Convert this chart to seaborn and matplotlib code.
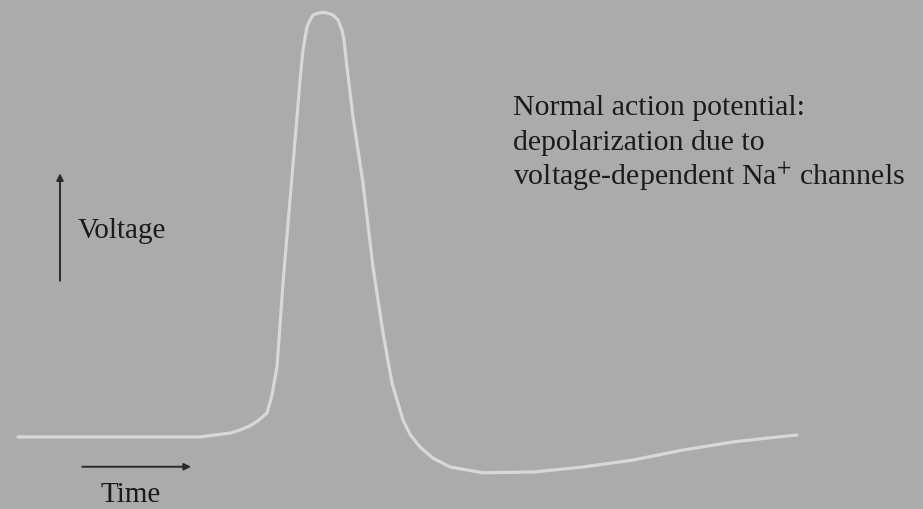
import matplotlib
matplotlib.use("Agg")
import matplotlib.pyplot as plt
import seaborn as sns
import pandas as pd

# action potential trace (time in ms, voltage in mV)
time_ms = [0.0, 1.64, 3.64, 4.24, 4.44, 4.64, 4.80, 4.98, 5.08, 5.18, 5.30, 5.44,
           5.58, 5.64, 5.70, 5.74, 5.78, 5.84, 5.90, 6.00, 6.10, 6.20, 6.30, 6.40,
           6.48, 6.52, 6.58, 6.70, 6.90, 7.10, 7.30, 7.48, 7.70, 7.85, 8.04, 8.30,
           8.64, 9.30, 10.30, 11.30, 12.30, 13.30, 14.30, 14.98, 15.58]
voltage_mv = [-70.0, -70.0, -70.0, -69.0, -68.2, -67.1, -65.8, -63.8, -59.1, -51.8, -30.1, -8.5,
              13.0, 22.6, 30.4, 33.5, 36.4, 38.2, 39.5, 40.0, 40.2, 40.0, 39.5, 38.2,
              35.6, 33.0, 26.0, 13.0, -4.1, -25.9, -43.0, -56.0, -65.6, -69.5, -72.6, -75.5,
              -77.8, -79.3, -79.1, -77.8, -76.0, -73.4, -71.3, -70.3, -69.5]

note_lines = ["Normal action potential:",
              "depolarization due to",
              "voltage-dependent Na$^{+}$ channels"]

df = pd.DataFrame({"time": time_ms, "voltage": voltage_mv})

bg = "#ababab"
sns.set_theme(style="white", rc={"figure.facecolor": bg, "axes.facecolor": bg})
plt.rcParams["font.family"] = ["Liberation Serif", "DejaVu Serif"]
plt.rcParams["mathtext.fontset"] = "stix"

fig = plt.figure(figsize=(9.23, 5.09), dpi=100)
ax = fig.add_axes([0, 0, 1, 1])
sns.lineplot(data=df, x="time", y="voltage", ax=ax, color="#d8d8d8",
             linewidth=2.3, sort=False)
ax.set_xlim(-0.36, 18.1)
ax.set_ylim(-88.7, 43.4)
ax.set_axis_off()

arrow = dict(arrowstyle="-|>", color="#2a2a2a", lw=1.4, mutation_scale=10)
ax.annotate("", xy=(0.065, 0.665), xytext=(0.065, 0.443),
            xycoords="axes fraction", arrowprops=arrow)
ax.annotate("", xy=(0.210, 0.083), xytext=(0.086, 0.083),
            xycoords="axes fraction", arrowprops=arrow)

txt = "#1a1a1a"
ax.text(0.084, 0.532, "Voltage", transform=ax.transAxes, fontsize=21,
        color=txt, va="baseline", ha="left")
ax.text(0.142, 0.014, "Time", transform=ax.transAxes, fontsize=21,
        color=txt, va="baseline", ha="center")

for i, line in enumerate(note_lines):
    ax.text(0.556, 0.774 - i * 0.0685, line, transform=ax.transAxes,
            fontsize=21.5, color=txt, va="baseline", ha="left")

fig.savefig("out.png", dpi=100, facecolor=bg)
